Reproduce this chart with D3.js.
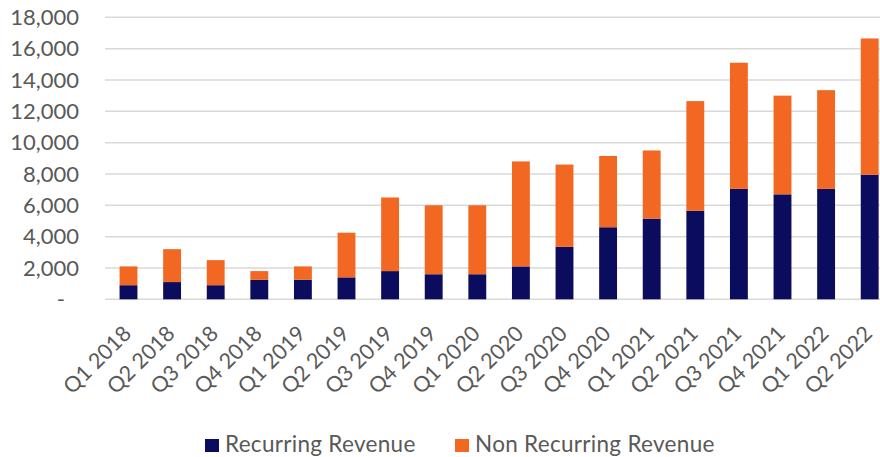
<!DOCTYPE html>
<html>
<head>
<meta charset="utf-8">
<script src="https://cdn.jsdelivr.net/npm/d3@7"></script>
<style>
	body { margin: 0; background: #fff; }
	svg { display: block; font-family: Lato, "Open Sans", sans-serif; }
</style>
</head>
<body>
<div id="chart"></div>
<script>

var quarters = ["Q1 2018", "Q2 2018", "Q3 2018", "Q4 2018", "Q1 2019", "Q2 2019", "Q3 2019", "Q4 2019",
	"Q1 2020", "Q2 2020", "Q3 2020", "Q4 2020", "Q1 2021", "Q2 2021", "Q3 2021", "Q4 2021", "Q1 2022", "Q2 2022"];

var recurring    = [900, 1100, 900, 1250, 1250, 1400, 1800, 1600, 1600, 2100, 3350, 4600, 5150, 5650, 7050, 6700, 7050, 7950];
var nonRecurring = [1200, 2100, 1600, 550, 850, 2850, 4700, 4400, 4400, 6700, 5250, 4550, 4350, 7000, 8050, 6300, 6300, 8700];

var yTicks = [0, 2000, 4000, 6000, 8000, 10000, 12000, 14000, 16000, 18000];
var seriesNames = ["Recurring Revenue", "Non Recurring Revenue"];
var seriesColors = ["#0c0c5f", "#f26722"];


var W = 880, H = 457;

var svg = d3.select("#chart").append("svg")
	.attr("width", W)
	.attr("height", H);

var x = d3.scaleBand()
	.domain(quarters)
	.range([106.7, 891.5])
	.paddingInner(0.59)
	.paddingOuter(0.295);

var y = d3.scaleLinear()
	.domain([0, 18000])
	.range([299.3, 17.3]);

// gridlines
svg.append("g")
	.selectAll("line")
	.data(yTicks)
	.enter()
	.append("line")
		.attr("x1", 105)
		.attr("x2", W)
		.attr("y1", function(d) { return y(d); })
		.attr("y2", function(d) { return y(d); })
		.style("stroke", "#d9d9d9")
		.style("stroke-width", 1.5);

// stacked bars
var table = quarters.map(function(q, i) {
	return {q: q, "Recurring Revenue": recurring[i], "Non Recurring Revenue": nonRecurring[i]};
});
var stack = d3.stack().keys(seriesNames)(table);

svg.append("g")
	.selectAll("g")
	.data(stack)
	.enter()
	.append("g")
		.style("fill", function(d, i) { return seriesColors[i]; })
	.selectAll("rect")
	.data(function(d) { return d; })
	.enter()
	.append("rect")
		.attr("x", function(d) { return x(d.data.q); })
		.attr("y", function(d) { return y(d[1]); })
		.attr("width", x.bandwidth())
		.attr("height", function(d) { return y(d[0]) - y(d[1]); });

// y axis labels
var axisLeft = d3.axisLeft(y)
	.tickValues(yTicks)
	.tickSize(0)
	.tickPadding(0)
	.tickFormat(function(d) { return d === 0 ? "-" : d3.format(",")(d); });

var gy = svg.append("g")
	.attr("transform", "translate(79,0)")
	.call(axisLeft);
gy.select(".domain").remove();
gy.selectAll("text")
	.style("font-family", "Lato, 'Open Sans', sans-serif")
	.style("font-size", "22px")
	.style("fill", "#595959")
	.attr("dx", function(d) { return d === 0 ? -14 : 0; });

// x axis labels
var gx = svg.append("g");
gx.selectAll("text")
	.data(quarters)
	.enter()
	.append("text")
		.attr("transform", function(d) {
			return "translate(" + (x(d) + x.bandwidth() / 2 + 4) + ",335) rotate(-45)";
		})
		.style("text-anchor", "end")
		.style("font-size", "21.5px")
		.style("fill", "#595959")
		.text(function(d) { return d; });

// legend
var legendX = [205, 455];
var legend = svg.append("g")
	.selectAll("g")
	.data(seriesNames)
	.enter()
	.append("g")
		.attr("transform", function(d, i) { return "translate(" + legendX[i] + ",439)"; });

legend.append("rect")
	.attr("width", 14)
	.attr("height", 13)
	.style("fill", function(d, i) { return seriesColors[i]; });

legend.append("text")
	.attr("x", 20)
	.attr("y", 13)
	.style("font-size", "22.5px")
	.style("letter-spacing", "0.3px")
	.style("fill", "#595959")
	.text(function(d) { return d; });

</script>
</body>
</html>
